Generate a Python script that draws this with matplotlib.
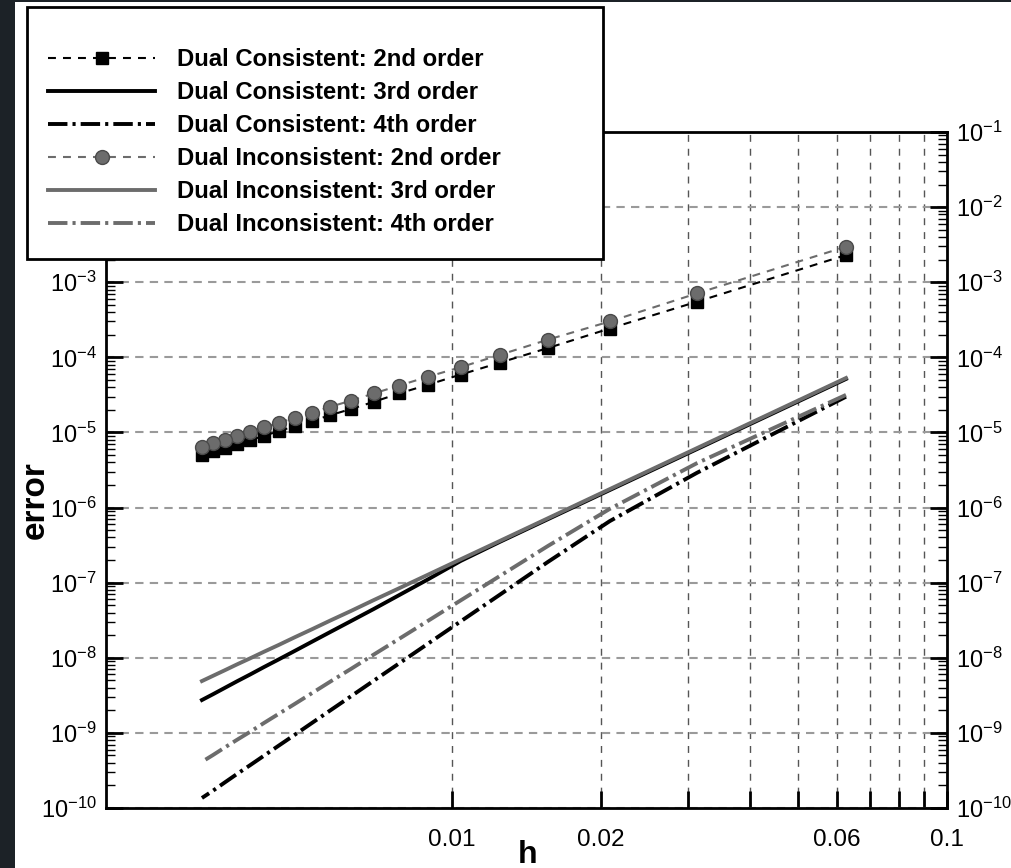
import numpy as np
import matplotlib
matplotlib.use("Agg")
import matplotlib.pyplot as plt
from matplotlib.patches import Rectangle
from matplotlib.ticker import FixedLocator, NullLocator, LogFormatterMathtext

plt.rcParams['font.family'] = ['Liberation Sans', 'DejaVu Sans']
plt.rcParams['mathtext.fontset'] = 'custom'
plt.rcParams['mathtext.rm'] = 'Liberation Sans'
plt.rcParams['mathtext.it'] = 'Liberation Sans:italic'
plt.rcParams['mathtext.default'] = 'regular'

# mesh size h = 1/N, N = 16 ... 320
h = [0.0625, 0.03125, 0.020833, 0.015625, 0.0125, 0.010417, 0.0089286, 0.0078125,
     0.0069444, 0.00625, 0.0056818, 0.0052083, 0.0048077, 0.0044643, 0.0041667,
     0.0039063, 0.0036765, 0.0034722, 0.0032895, 0.003125]

# errors
dc_2nd = [2.3e-3, 5.5e-4, 2.42e-4, 1.33e-4, 8.5e-5, 5.9e-5, 4.3e-5, 3.3e-5, 2.55e-5, 2.05e-5,
          1.7e-5, 1.42e-5, 1.21e-5, 1.04e-5, 9.0e-6, 7.9e-6, 7.0e-6, 6.2e-6, 5.6e-6, 5.0e-6]
di_2nd = [2.97e-3, 7.1e-4, 3.0e-4, 1.72e-4, 1.08e-4, 7.4e-5, 5.5e-5, 4.2e-5, 3.3e-5, 2.65e-5,
          2.2e-5, 1.83e-5, 1.56e-5, 1.34e-5, 1.17e-5, 1.02e-5, 9.0e-6, 8.0e-6, 7.2e-6, 6.45e-6]
dc_3rd = [5.15e-5, 6.0e-6, 1.71e-6, 7.0e-7, 3.5e-7, 1.95e-7, 1.1e-7, 6.8e-8, 4.45e-8, 3.08e-8,
          2.21e-8, 1.63e-8, 1.23e-8, 9.5e-9, 7.5e-9, 5.97e-9, 4.85e-9, 3.96e-9, 3.27e-9, 2.74e-9]
di_3rd = [5.3e-5, 6.18e-6, 1.76e-6, 7.2e-7, 3.6e-7, 2.05e-7, 1.27e-7, 8.4e-8, 5.85e-8, 4.2e-8,
          3.14e-8, 2.39e-8, 1.87e-8, 1.48e-8, 1.2e-8, 9.8e-9, 8.15e-9, 6.8e-9, 5.75e-9, 4.9e-9]
dc_4th = [2.99e-5, 2.9e-6, 6.6e-7, 1.89e-7, 6.93e-8, 3.06e-8, 1.53e-8, 8.38e-9, 4.94e-9, 3.07e-9,
          2.0e-9, 1.35e-9, 9.4e-10, 6.75e-10, 4.95e-10, 3.7e-10, 2.83e-10, 2.18e-10, 1.7e-10, 1.36e-10]
di_4th = [3.16e-5, 3.9e-6, 9.6e-7, 3.08e-7, 1.23e-7, 5.82e-8, 3.08e-8, 1.78e-8, 1.1e-8, 7.11e-9,
          4.83e-9, 3.37e-9, 2.42e-9, 1.79e-9, 1.35e-9, 1.03e-9, 8.07e-10, 6.37e-10, 5.07e-10, 4.12e-10]

labels = ['Dual Consistent: 2nd order', 'Dual Consistent: 3rd order', 'Dual Consistent: 4th order',
          'Dual Inconsistent: 2nd order', 'Dual Inconsistent: 3rd order', 'Dual Inconsistent: 4th order']

x_ticks = [0.01, 0.02, 0.03, 0.04, 0.05, 0.06, 0.07, 0.08, 0.09, 0.1]
x_ticklabels = ['0.01', '0.02', '', '', '', '0.06', '', '', '', '0.1']
y_decades = list(range(-10, 0))

W, H = 1011, 868
fig = plt.figure(figsize=(W / 100, H / 100), dpi=100)
ax = fig.add_axes([106 / W, 60 / H, 841 / W, 676 / H])

gray = '#6c6c6c'
lw = 2.8
ax.plot(h, dc_2nd, color='black', lw=1.5, dashes=(3.8, 3.4), marker='s', ms=9,
        mfc='black', mec='black', label=labels[0])
ax.plot(h, dc_3rd, color='black', lw=lw, label=labels[1])
ax.plot(h, dc_4th, color='black', lw=lw, dashes=(5, 1.3, 0.8, 1.3), label=labels[2])
ax.plot(h, di_2nd, color=gray, lw=1.5, dashes=(3.8, 3.4), marker='o', ms=10,
        mfc=gray, mec='#4a4a4a', label=labels[3])
ax.plot(h, di_3rd, color=gray, lw=lw, label=labels[4])
ax.plot(h, di_4th, color=gray, lw=lw, dashes=(5, 1.3, 0.8, 1.3), label=labels[5])

ax.set_xscale('log')
ax.set_yscale('log')
ax.set_xlim(0.002, 0.1)
ax.set_ylim(1e-10, 1e-1)

ax.xaxis.set_major_locator(FixedLocator(x_ticks))
ax.xaxis.set_minor_locator(NullLocator())
ax.set_xticklabels(x_ticklabels)
ax.yaxis.set_major_locator(FixedLocator([10.0 ** e for e in y_decades]))
ax.yaxis.set_minor_locator(FixedLocator([m * 10.0 ** e for e in y_decades[:-1] for m in range(2, 10)]))
ax.yaxis.set_major_formatter(LogFormatterMathtext())

ax.tick_params(axis='x', which='major', direction='in', length=12, width=2,
               labelsize=17.5, pad=15, top=False)
ax.tick_params(axis='y', which='major', direction='in', length=12, width=2,
               labelsize=17, pad=6.5, left=True, right=True, labelleft=True, labelright=True)
ax.tick_params(axis='y', which='minor', direction='in', length=6.5, width=1,
               left=True, right=True)

for s in ax.spines.values():
    s.set_linewidth(2)

ax.grid(True, axis='x', which='major', color='#555555', lw=1, dashes=(5, 5))
ax.grid(True, axis='y', which='major', color='#9a9a9a', lw=1.5, dashes=(4, 3))
ax.set_axisbelow(True)

fig.text(35 / W, 1 - 500 / H, 'error', rotation=90, fontsize=24, fontweight='bold',
         ha='center', va='center')
fig.text(528 / W, 1 - 855 / H, 'h', fontsize=23, fontweight='bold', ha='center', va='center')

# legend box drawn over the plot
fig.patches.append(Rectangle((27 / W, 1 - 259 / H), 576 / W, 252 / H, transform=fig.transFigure,
                             facecolor='white', edgecolor='black', lw=2, zorder=4))
handles, labs = ax.get_legend_handles_labels()
leg = fig.legend(handles, labs, loc='upper left', bbox_to_anchor=(48 / W, 1 - 48 / H),
                 frameon=False, borderpad=0, borderaxespad=0, handlelength=4.48,
                 handletextpad=0.92, labelspacing=0.42,
                 prop={'size': 17.2, 'weight': 'bold'})
leg.set_zorder(5)

# dark page edge
fig.patches.append(Rectangle((0, 0), 15 / W, 1, transform=fig.transFigure,
                             facecolor='#1c2227', edgecolor='none', zorder=6))
fig.patches.append(Rectangle((0, 1 - 2 / H), 1, 2 / H, transform=fig.transFigure,
                             facecolor='#1c2227', edgecolor='none', zorder=6))

fig.savefig('out.png', dpi=100)
